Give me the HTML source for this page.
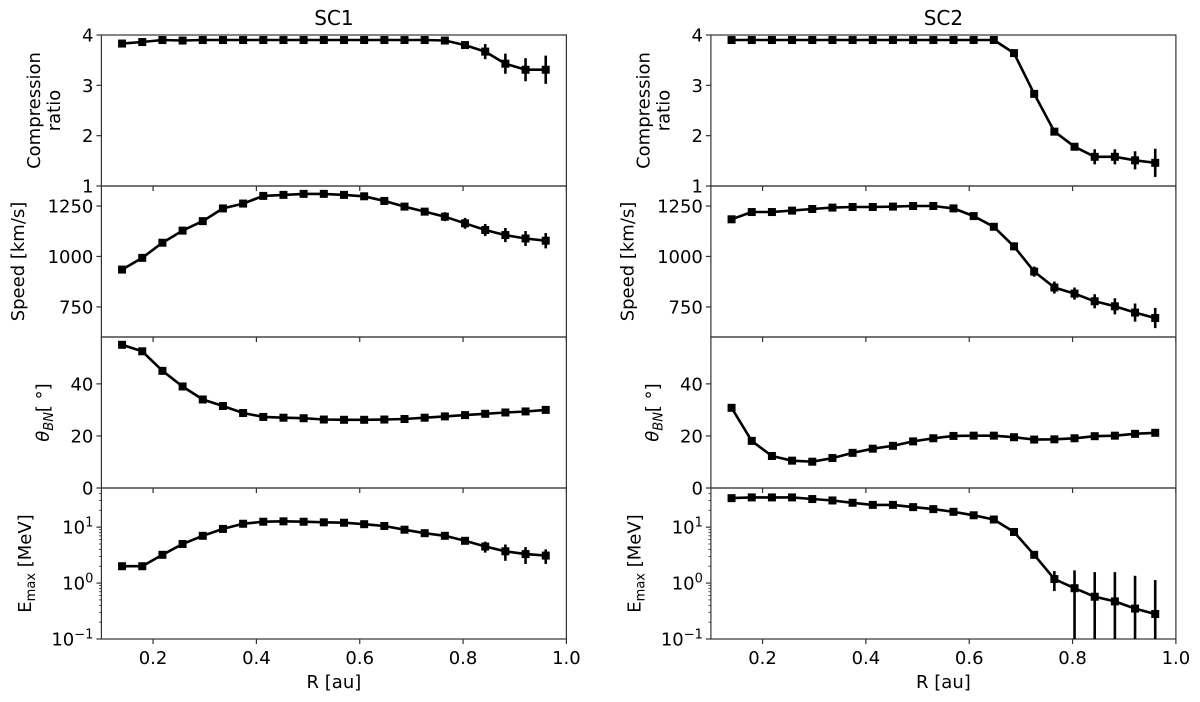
<!DOCTYPE html>
<html><head><meta charset="utf-8"><style>
body{margin:0;background:#fff}
svg{display:block;font-family:"DejaVu Sans","Liberation Sans",sans-serif}
</style></head><body>
<svg id="fig" width="1200" height="702" viewBox="0 0 1200 702" xmlns="http://www.w3.org/2000/svg"></svg>
<script>
const rValues=[];for(let i=0;i<22;i++)rValues.push(0.14+i*0.82/21);
const sc1Comp=[3.83,3.86,3.9,3.89,3.9,3.9,3.9,3.9,3.9,3.9,3.9,3.9,3.9,3.9,3.9,3.9,3.89,3.8,3.67,3.43,3.31,3.31];
const sc1CompErr=[0,0,0,0,0,0,0,0,0,0,0,0,0,0,0,0,0,0.07,0.15,0.2,0.23,0.28];
const sc1Speed=[935,993,1068,1128,1175,1238,1262,1300,1305,1310,1310,1305,1298,1275,1247,1222,1197,1164,1131,1106,1089,1078];
const sc1SpeedErr=[0,0,0,0,0,0,0,0,0,0,0,0,0,5,12,18,22,27,30,35,37,38];
const sc1Theta=[55,52.5,45,39,34,31.5,28.8,27.3,27,26.8,26.3,26.2,26.2,26.3,26.5,27,27.5,28,28.5,29,29.4,30];
const sc1ThetaErr=[0,0,0,0,0,0,0,0,0,0,0,0,0,0,0,0,0,0,0,0,0,0];
const sc1Emax=[2.0,2.0,3.2,5,7,9.3,11.5,12.5,12.7,12.5,12.2,12,11.3,10.5,9,7.8,7,5.7,4.5,3.7,3.3,3.1];
const sc1EmaxErr=[0,0,0,0,0,0,0,0,0,0,0,0,0,0,0,0,0.4,0.6,1,1.2,1.1,0.9];
const sc2Comp=[3.9,3.9,3.9,3.9,3.9,3.9,3.9,3.9,3.9,3.9,3.9,3.9,3.9,3.9,3.64,2.83,2.08,1.78,1.58,1.58,1.51,1.46];
const sc2CompErr=[0,0,0,0,0,0,0,0,0,0,0,0,0,0,0,0,0.02,0.05,0.15,0.15,0.18,0.28];
const sc2Speed=[1184,1220,1220,1227,1235,1242,1245,1245,1247,1250,1250,1238,1200,1147,1050,925,846,816,778,753,722,695];
const sc2SpeedErr=[0,0,0,0,0,0,0,0,0,0,0,0,0,10,20,25,30,30,35,40,45,50];
const sc2Theta=[30.8,18.1,12.3,10.5,10.1,11.5,13.5,15.1,16.2,17.9,19.1,20,20.1,20.1,19.5,18.6,18.7,19.1,19.9,20.1,20.8,21.2];
const sc2ThetaErr=[0,0,0,0,0,0,0,0,0,0,0,0,0,0,0,0,0,0,0,0,0,0];
const sc2Emax=[33,34,34,34,31.8,30,27.3,25,25,22.8,21,18.8,16.3,13.7,8.2,3.2,1.18,0.81,0.57,0.47,0.35,0.28];
const sc2EmaxErr=[0,0,0,0,0,0,0,0,0,0,0,0,0,0,0,0,0.46,0.88,1.0,1.1,1.0,0.85];
const xTicks=[0.2,0.4,0.6,0.8,1.0];
const compTicks=[1,2,3,4];
const speedTicks=[750,1000,1250];
const thetaTicks=[0,20,40];
const emaxTicks=[-1,0,1];

const NS="http://www.w3.org/2000/svg";
const svg=document.getElementById('fig');
function el(tag,attrs,parent){const e=document.createElementNS(NS,tag);for(const k in attrs)e.setAttribute(k,attrs[k]);(parent||svg).appendChild(e);return e;}

const FS=18;
const panelTop=[35,186,337,488],panelH=151;
const cols=[{x0:101.4,x1:566.4,title:'SC1',name:'sc1'},{x0:710.9,x1:1175.9,title:'SC2',name:'sc2'}];
const series=[[sc1Comp,sc1Speed,sc1Theta,sc1Emax],[sc2Comp,sc2Speed,sc2Theta,sc2Emax]];
const errs=[[sc1CompErr,sc1SpeedErr,sc1ThetaErr,sc1EmaxErr],[sc2CompErr,sc2SpeedErr,sc2ThetaErr,sc2EmaxErr]];
const ranges=[[1,4],[601,1349],[0,58],[-1,1.7]];
const panelNames=['compression','speed','theta','emax'];

cols.forEach((c,ci)=>{
  const xs=v=>c.x0+(v-0.1)/0.9*(c.x1-c.x0);
  const g=el('g',{});
  
  
  const t=el('text',{x:(c.x0+c.x1)/2,y:25,'text-anchor':'middle','font-size':20},g);
  t.textContent=c.title;
  
  
  for(let p=0;p<4;p++){
    const top=panelTop[p],bot=top+panelH,[lo,hi]=ranges[p];
    const isLog=p===3;
    const ys=v=>{const u=isLog?Math.log10(Math.max(v,1e-6)):v;return bot-(u-lo)/(hi-lo)*panelH;};
    const pg=el('g',{},g);
    
    
    const fr=el('rect',{x:c.x0,y:top,width:c.x1-c.x0,height:panelH,fill:'none',stroke:'#333','stroke-width':1.2},pg);
    
    
    const ticks=[compTicks,speedTicks,thetaTicks,emaxTicks][p];
    ticks.forEach(tv=>{
      const y=bot-(tv-lo)/(hi-lo)*panelH;
      el('line',{x1:c.x0-5,x2:c.x0,y1:y,y2:y,stroke:'#333','stroke-width':1.2},pg);
      const tx=el('text',{x:c.x0-8,y:y+6.5,'text-anchor':'end','font-size':FS},pg);
      if(isLog){tx.innerHTML='10<tspan dy="-7" font-size="13">'+(tv<0?'\u2212'+(-tv):tv)+'</tspan>';}
      else tx.textContent=tv;
      
      
    });
    if(isLog){
      for(let d=-1;d<2;d++)for(let m=2;m<10;m++){
        const u=d+Math.log10(m);if(u>hi)continue;
        const y=bot-(u-lo)/(hi-lo)*panelH;
        el('line',{x1:c.x0-2.5,x2:c.x0,y1:y,y2:y,stroke:'#333','stroke-width':0.8},pg);
      }
    }
    const lx=[[34,54],[18],[43],[25]][p].map(v=>v+(c.x0-101.4));
    const cy=top+panelH/2;
    if(p===0){
      ['Compression','ratio'].forEach((s,k)=>{const l=el('text',{x:lx[k],y:cy+6,'text-anchor':'middle','font-size':FS,transform:`rotate(-90 ${lx[k]} ${cy})`},pg);l.textContent=s;});
    }else{
      const l=el('text',{x:lx[0],y:cy+6,'text-anchor':'middle','font-size':FS,transform:`rotate(-90 ${lx[0]} ${cy})`},pg);
      if(p===1)l.textContent='Speed [km/s]';
      if(p===2)l.innerHTML='<tspan font-style="italic">θ</tspan><tspan font-style="italic" font-size="13" dy="4">BN</tspan><tspan dy="-4">[ °]</tspan>';
      if(p===3)l.innerHTML='E<tspan font-size="13" dy="4">max</tspan><tspan dy="-4"> [MeV]</tspan>';
      
      
    }
    const vals=series[ci][p],er=errs[ci][p];
    rValues.forEach((r,i)=>{
      if(er[i]>0){
        const ya=Math.min(ys(vals[i]+er[i]),bot),yb=Math.min(ys(vals[i]-er[i]),bot);
        const eb=el('line',{x1:xs(r),x2:xs(r),y1:Math.max(ya,top),y2:yb,stroke:'#000','stroke-width':2.6},pg);
        
        
      }
    });
    const pts=rValues.map((r,i)=>xs(r).toFixed(1)+','+ys(vals[i]).toFixed(1)).join(' ');
    const ln=el('polyline',{points:pts,fill:'none',stroke:'#000','stroke-width':2.6,'stroke-linejoin':'round'},pg);
    
    
    rValues.forEach((r,i)=>{
      const m=el('rect',{x:xs(r)-4,y:ys(vals[i])-4,width:8,height:8,fill:'#000'},pg);
      
      
    });
    xTicks.forEach(tv=>{
      el('line',{x1:xs(tv),x2:xs(tv),y1:bot,y2:bot+5,stroke:'#333','stroke-width':1.2},pg);
      if(p===3){
        const tx=el('text',{x:xs(tv),y:bot+25,'text-anchor':'middle','font-size':FS},pg);
        tx.textContent=tv.toFixed(1);
        
        
      }
    });
  }
  const xl=el('text',{x:(c.x0+c.x1)/2,y:688,'text-anchor':'middle','font-size':FS},g);
  xl.textContent='R [au]';
  
  
});
</script>
</body></html>
